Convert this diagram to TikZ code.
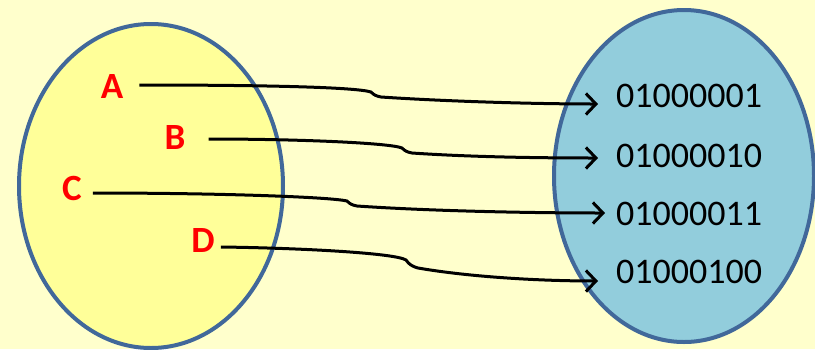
\documentclass[tikz,border=0pt]{standalone}
\usepackage{fontspec}
\setmainfont{Carlito}
\usetikzlibrary{arrows.meta}
\definecolor{bgc}{HTML}{FFFFCC}
\definecolor{leftfill}{HTML}{FFFF99}
\definecolor{rightfill}{HTML}{92CDDC}
\definecolor{rim}{HTML}{41689A}
\definecolor{lab}{HTML}{FF0000}
\tikzset{
  setshape/.style={draw=rim, line width=4pt},
  letter/.style={text=lab, font=\fontsize{37}{37}\selectfont\bfseries, inner sep=0pt},
  code/.style={text=black, font=\fontsize{36}{36}\selectfont, inner sep=0pt, anchor=west},
  link/.style={line width=3pt, -{Straight Barb[length=10pt,width=21pt,line width=3pt]}},
}
\begin{document}
\begin{tikzpicture}[x=1pt,y=-1pt]
\useasboundingbox (0,0) rectangle (815,349);
\fill[bgc] (0,0) rectangle (815,349);
\filldraw[setshape, fill=leftfill] (151,186) ellipse [x radius=132, y radius=162];
\filldraw[setshape, fill=rightfill] (684,176) ellipse [x radius=130, y radius=166];

\node[letter] (A) at (112,86) {A};
\node[letter] (B) at (175,137) {B};
\node[letter] (C) at (72,188) {C};
\node[letter] (D) at (203,240) {D};

\node[code] (n1) at (616,96) {01000001};
\node[code] (n2) at (616,156) {01000010};
\node[code] (n3) at (616,214) {01000011};
\node[code] (n4) at (616,272) {01000100};

\coordinate (tA) at (598,104);
\coordinate (tB) at (598,158);
\coordinate (tC) at (605,213);
\coordinate (tD) at (598,281);

\draw[link] ([xshift=16pt,yshift=1pt]A.east) .. controls (260,85) and (355,87) .. (371,92)
  .. controls (374,95) and (376,96) .. (381,97)
  .. controls (440,101) and (530,104) .. (tA);
\draw[link] ([xshift=23pt,yshift=-2pt]B.east) .. controls (300,139) and (390,143) .. (402,148)
  .. controls (405,151) and (407,152) .. (412,153)
  .. controls (470,157) and (540,158) .. (tB);
\draw[link] ([xshift=11pt,yshift=-5pt]C.east) .. controls (220,193) and (330,197) .. (347,201)
  .. controls (350,204) and (352,205) .. (357,206)
  .. controls (430,211) and (530,213) .. (tC);
\draw[link] ([xshift=6pt,yshift=-7pt]D.east) .. controls (300,248) and (395,253) .. (406,260)
  .. controls (409,264) and (411,266) .. (418,268)
  .. controls (470,277) and (540,281) .. (tD);
\end{tikzpicture}
\end{document}
